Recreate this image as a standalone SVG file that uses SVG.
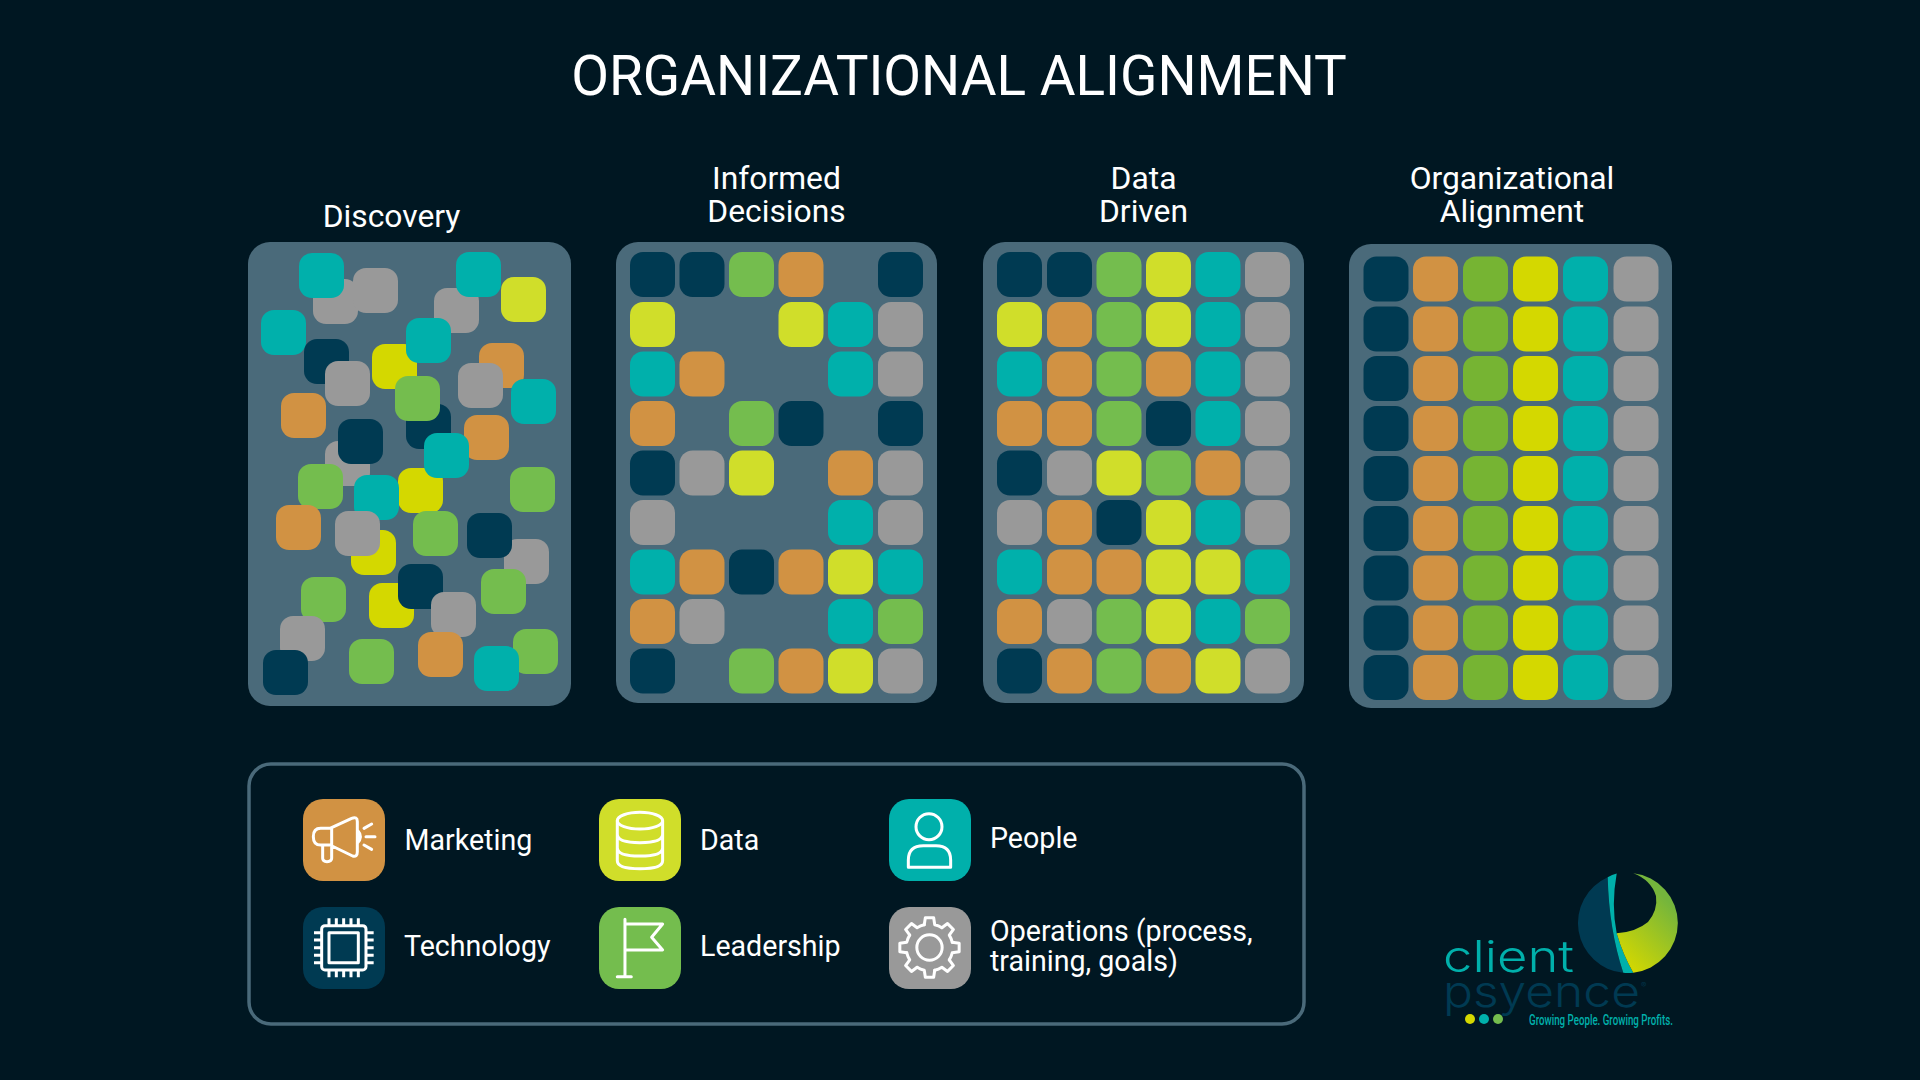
<svg xmlns="http://www.w3.org/2000/svg" width="1920" height="1080" viewBox="0 0 1920 1080">
<style>
.n{fill:#003a52}.o{fill:#d19243}.g{fill:#74bd4e}.G{fill:#76b433}.l{fill:#d0de2a}.y{fill:#d4d800}.t{fill:#00b0ab}.a{fill:#999999}
.panel{fill:#4a6a7a}
text{font-family:Roboto,"Liberation Sans",sans-serif;fill:#fff}
.h{font-size:31.8px;text-anchor:middle}
.lg{font-size:28.6px}
.ic{fill:none;stroke:#fff;stroke-width:9;stroke-linecap:round;stroke-linejoin:round}
.logo{font-family:Inter,"Noto Sans",sans-serif;font-weight:300}
</style>
<defs>
<rect id="s" width="45" height="45" rx="13"/>
<rect id="b" width="82" height="82" rx="20"/>
<path id="gs" d="M-15.7,-68.2 L-12.5,-89 H12.5 L15.7,-68.2 A70,70 0 0 1 37.1,-59.4"/>
<linearGradient id="lgd" gradientUnits="userSpaceOnUse" x1="1618" y1="958" x2="1672" y2="905"><stop offset="0" stop-color="#d4d800"/><stop offset="1" stop-color="#74b53c"/></linearGradient>
</defs>
<rect width="1920" height="1080" fill="#001722"/>
<text id="title" x="959" y="95" font-size="54.9" text-anchor="middle">ORGANIZATIONAL ALIGNMENT</text>

<g id="discovery">
<text class="h" x="391.5" y="227">Discovery</text>
<rect class="panel" x="248" y="242" width="323" height="464" rx="22"/>
<use href="#s" class="a" x="313" y="279"/><use href="#s" class="a" x="353" y="268"/><use href="#s" class="t" x="299" y="253"/>
<use href="#s" class="a" x="434" y="288"/><use href="#s" class="t" x="456" y="252"/><use href="#s" class="l" x="501" y="277"/>
<use href="#s" class="t" x="261" y="310"/><use href="#s" class="n" x="304" y="339"/><use href="#s" class="a" x="325" y="361"/>
<use href="#s" class="y" x="372" y="344"/><use href="#s" class="t" x="406" y="318"/><use href="#s" class="o" x="479" y="343"/>
<use href="#s" class="a" x="458" y="363"/><use href="#s" class="t" x="511" y="379"/><use href="#s" class="n" x="406" y="404"/>
<use href="#s" class="g" x="395" y="376"/><use href="#s" class="o" x="281" y="393"/><use href="#s" class="a" x="325" y="441"/>
<use href="#s" class="n" x="338" y="419"/><use href="#s" class="o" x="464" y="415"/><use href="#s" class="y" x="398" y="468"/>
<use href="#s" class="t" x="424" y="433"/><use href="#s" class="t" x="354" y="475"/><use href="#s" class="g" x="298" y="464"/>
<use href="#s" class="g" x="510" y="467"/><use href="#s" class="o" x="276" y="505"/><use href="#s" class="y" x="351" y="530"/>
<use href="#s" class="a" x="335" y="511"/><use href="#s" class="g" x="413" y="511"/><use href="#s" class="a" x="504" y="539"/>
<use href="#s" class="n" x="467" y="513"/><use href="#s" class="g" x="481" y="569"/><use href="#s" class="y" x="369" y="583"/>
<use href="#s" class="n" x="398" y="564"/><use href="#s" class="a" x="431" y="592"/><use href="#s" class="g" x="301" y="577"/>
<use href="#s" class="a" x="280" y="616"/><use href="#s" class="n" x="263" y="650"/><use href="#s" class="g" x="349" y="639"/>
<use href="#s" class="o" x="418" y="632"/><use href="#s" class="g" x="513" y="629"/><use href="#s" class="t" x="474" y="646"/>
</g>

<g id="informed-decisions">
<text class="h" x="776.5" y="189">Informed</text><text class="h" x="776.5" y="222">Decisions</text>
<rect class="panel" x="616" y="242" width="321" height="461" rx="22"/>
<g transform="translate(0,252)"><use href="#s" class="n" x="630"/><use href="#s" class="n" x="679.5"/><use href="#s" class="g" x="729"/><use href="#s" class="o" x="778.5"/><use href="#s" class="n" x="878"/></g>
<g transform="translate(0,302)"><use href="#s" class="l" x="630"/><use href="#s" class="l" x="778.5"/><use href="#s" class="t" x="828"/><use href="#s" class="a" x="878"/></g>
<g transform="translate(0,351.5)"><use href="#s" class="t" x="630"/><use href="#s" class="o" x="679.5"/><use href="#s" class="t" x="828"/><use href="#s" class="a" x="878"/></g>
<g transform="translate(0,401)"><use href="#s" class="o" x="630"/><use href="#s" class="g" x="729"/><use href="#s" class="n" x="778.5"/><use href="#s" class="n" x="878"/></g>
<g transform="translate(0,450.5)"><use href="#s" class="n" x="630"/><use href="#s" class="a" x="679.5"/><use href="#s" class="l" x="729"/><use href="#s" class="o" x="828"/><use href="#s" class="a" x="878"/></g>
<g transform="translate(0,500)"><use href="#s" class="a" x="630"/><use href="#s" class="t" x="828"/><use href="#s" class="a" x="878"/></g>
<g transform="translate(0,549.5)"><use href="#s" class="t" x="630"/><use href="#s" class="o" x="679.5"/><use href="#s" class="n" x="729"/><use href="#s" class="o" x="778.5"/><use href="#s" class="l" x="828"/><use href="#s" class="t" x="878"/></g>
<g transform="translate(0,599)"><use href="#s" class="o" x="630"/><use href="#s" class="a" x="679.5"/><use href="#s" class="t" x="828"/><use href="#s" class="g" x="878"/></g>
<g transform="translate(0,648.5)"><use href="#s" class="n" x="630"/><use href="#s" class="g" x="729"/><use href="#s" class="o" x="778.5"/><use href="#s" class="l" x="828"/><use href="#s" class="a" x="878"/></g>
</g>

<g id="data-driven">
<text class="h" x="1143.5" y="189">Data</text><text class="h" x="1143.5" y="222">Driven</text>
<rect class="panel" x="983" y="242" width="321" height="461" rx="22"/>
<g transform="translate(0,252)"><use href="#s" class="n" x="997"/><use href="#s" class="n" x="1047"/><use href="#s" class="g" x="1096.5"/><use href="#s" class="l" x="1146"/><use href="#s" class="t" x="1195.5"/><use href="#s" class="a" x="1245"/></g>
<g transform="translate(0,302)"><use href="#s" class="l" x="997"/><use href="#s" class="o" x="1047"/><use href="#s" class="g" x="1096.5"/><use href="#s" class="l" x="1146"/><use href="#s" class="t" x="1195.5"/><use href="#s" class="a" x="1245"/></g>
<g transform="translate(0,351.5)"><use href="#s" class="t" x="997"/><use href="#s" class="o" x="1047"/><use href="#s" class="g" x="1096.5"/><use href="#s" class="o" x="1146"/><use href="#s" class="t" x="1195.5"/><use href="#s" class="a" x="1245"/></g>
<g transform="translate(0,401)"><use href="#s" class="o" x="997"/><use href="#s" class="o" x="1047"/><use href="#s" class="g" x="1096.5"/><use href="#s" class="n" x="1146"/><use href="#s" class="t" x="1195.5"/><use href="#s" class="a" x="1245"/></g>
<g transform="translate(0,450.5)"><use href="#s" class="n" x="997"/><use href="#s" class="a" x="1047"/><use href="#s" class="l" x="1096.5"/><use href="#s" class="g" x="1146"/><use href="#s" class="o" x="1195.5"/><use href="#s" class="a" x="1245"/></g>
<g transform="translate(0,500)"><use href="#s" class="a" x="997"/><use href="#s" class="o" x="1047"/><use href="#s" class="n" x="1096.5"/><use href="#s" class="l" x="1146"/><use href="#s" class="t" x="1195.5"/><use href="#s" class="a" x="1245"/></g>
<g transform="translate(0,549.5)"><use href="#s" class="t" x="997"/><use href="#s" class="o" x="1047"/><use href="#s" class="o" x="1096.5"/><use href="#s" class="l" x="1146"/><use href="#s" class="l" x="1195.5"/><use href="#s" class="t" x="1245"/></g>
<g transform="translate(0,599)"><use href="#s" class="o" x="997"/><use href="#s" class="a" x="1047"/><use href="#s" class="g" x="1096.5"/><use href="#s" class="l" x="1146"/><use href="#s" class="t" x="1195.5"/><use href="#s" class="g" x="1245"/></g>
<g transform="translate(0,648.5)"><use href="#s" class="n" x="997"/><use href="#s" class="o" x="1047"/><use href="#s" class="g" x="1096.5"/><use href="#s" class="o" x="1146"/><use href="#s" class="l" x="1195.5"/><use href="#s" class="a" x="1245"/></g>
</g>

<g id="organizational-alignment">
<text class="h" x="1512" y="189">Organizational</text><text class="h" x="1512" y="222">Alignment</text>
<rect class="panel" x="1349" y="244" width="323" height="464" rx="22"/>
<g transform="translate(0,256.5)"><use href="#s" class="n" x="1363.5"/><use href="#s" class="o" x="1413"/><use href="#s" class="G" x="1463"/><use href="#s" class="y" x="1513"/><use href="#s" class="t" x="1563"/><use href="#s" class="a" x="1613.5"/></g>
<g transform="translate(0,306.5)"><use href="#s" class="n" x="1363.5"/><use href="#s" class="o" x="1413"/><use href="#s" class="G" x="1463"/><use href="#s" class="y" x="1513"/><use href="#s" class="t" x="1563"/><use href="#s" class="a" x="1613.5"/></g>
<g transform="translate(0,356)"><use href="#s" class="n" x="1363.5"/><use href="#s" class="o" x="1413"/><use href="#s" class="G" x="1463"/><use href="#s" class="y" x="1513"/><use href="#s" class="t" x="1563"/><use href="#s" class="a" x="1613.5"/></g>
<g transform="translate(0,406)"><use href="#s" class="n" x="1363.5"/><use href="#s" class="o" x="1413"/><use href="#s" class="G" x="1463"/><use href="#s" class="y" x="1513"/><use href="#s" class="t" x="1563"/><use href="#s" class="a" x="1613.5"/></g>
<g transform="translate(0,456)"><use href="#s" class="n" x="1363.5"/><use href="#s" class="o" x="1413"/><use href="#s" class="G" x="1463"/><use href="#s" class="y" x="1513"/><use href="#s" class="t" x="1563"/><use href="#s" class="a" x="1613.5"/></g>
<g transform="translate(0,506)"><use href="#s" class="n" x="1363.5"/><use href="#s" class="o" x="1413"/><use href="#s" class="G" x="1463"/><use href="#s" class="y" x="1513"/><use href="#s" class="t" x="1563"/><use href="#s" class="a" x="1613.5"/></g>
<g transform="translate(0,555.5)"><use href="#s" class="n" x="1363.5"/><use href="#s" class="o" x="1413"/><use href="#s" class="G" x="1463"/><use href="#s" class="y" x="1513"/><use href="#s" class="t" x="1563"/><use href="#s" class="a" x="1613.5"/></g>
<g transform="translate(0,605.5)"><use href="#s" class="n" x="1363.5"/><use href="#s" class="o" x="1413"/><use href="#s" class="G" x="1463"/><use href="#s" class="y" x="1513"/><use href="#s" class="t" x="1563"/><use href="#s" class="a" x="1613.5"/></g>
<g transform="translate(0,655)"><use href="#s" class="n" x="1363.5"/><use href="#s" class="o" x="1413"/><use href="#s" class="G" x="1463"/><use href="#s" class="y" x="1513"/><use href="#s" class="t" x="1563"/><use href="#s" class="a" x="1613.5"/></g>
</g>

<g id="legend">
<rect x="249" y="764" width="1055" height="260" rx="22" fill="none" stroke="#4a6a7a" stroke-width="3.5"/>
<g id="marketing">
<use href="#b" class="o" x="303" y="799"/>
<g transform="translate(280,780) scale(.3333)" class="ic"><path d="M215,115 L150,145 H122 Q100,145 100,170 Q100,195 122,195 H150 L218,228 Q232,232 232,215 V125 Q232,108 215,115 Z M155,145 V195 M128,197 V235 Q128,245 141,245 Q155,245 155,235 V197 M232,150 Q250,170 232,190 M252,145 L275,132 M258,170 H285 M252,195 L275,208"/></g>
<text class="lg" x="404.5" y="850">Marketing</text>
</g>
<g id="technology">
<use href="#b" class="n" x="303" y="907"/>
<g transform="translate(280,780) scale(.3333)" class="ic"><rect x="125" y="437" width="133" height="133" rx="10"/><rect x="147" y="458" width="88" height="90"/><path stroke-linecap="butt" d="M147,415V437M169,415V437M191,415V437M213,415V437M235,415V437M147,570V592M169,570V592M191,570V592M213,570V592M235,570V592M102,458H125M102,480H125M102,503H125M102,526H125M102,548H125M258,458H281M258,480H281M258,503H281M258,526H281M258,548H281"/></g>
<text class="lg" x="404" y="956">Technology</text>
</g>
<g id="data">
<use href="#b" class="l" x="599" y="799"/>
<g transform="translate(280,780) scale(.3333)" class="ic"><ellipse cx="1080" cy="122" rx="68" ry="25"/><path d="M1012,122 V242 Q1012,266 1080,266 Q1148,266 1148,242 V122 M1012,163 Q1012,188 1080,188 Q1148,188 1148,163 M1012,203 Q1012,228 1080,228 Q1148,228 1148,203"/></g>
<text class="lg" x="700" y="850">Data</text>
</g>
<g id="leadership">
<use href="#b" class="g" x="599" y="907"/>
<g transform="translate(280,780) scale(.3333)" class="ic"><path d="M1035,418 V590 M1012,590 H1054 M1035,432 H1148 L1115,472 L1148,510 H1035"/></g>
<text class="lg" x="700" y="956">Leadership</text>
</g>
<g id="people">
<use href="#b" class="t" x="889" y="799"/>
<g transform="translate(860,780) scale(.3333)" class="ic"><circle cx="207" cy="140" r="39"/><path d="M145,262 V240 Q145,197 190,197 H228 Q272,197 272,240 V262 Z"/></g>
<text class="lg" x="990" y="848">People</text>
</g>
<g id="operations">
<use href="#b" class="a" x="889" y="907"/>
<g transform="translate(929.5,947.5) scale(.3333)" class="ic"><use href="#gs"/><use href="#gs" transform="rotate(45)"/><use href="#gs" transform="rotate(90)"/><use href="#gs" transform="rotate(135)"/><use href="#gs" transform="rotate(180)"/><use href="#gs" transform="rotate(225)"/><use href="#gs" transform="rotate(270)"/><use href="#gs" transform="rotate(315)"/><circle cx="0" cy="0" r="38"/></g>
<text class="lg" x="990" y="941">Operations (process,</text>
<text class="lg" x="990" y="971">training, goals)</text>
</g>
</g>

<g id="logo">
<path fill="#003a52" d="M1607.7,877.3 A50,50 0 0 0 1623.3,972.8 Q1609,930 1607.7,877.3 Z"/>
<path fill="#00b0ab" d="M1607.7,877.3 Q1612,874.5 1616.7,873.6 Q1611,905 1616.7,933.3 Q1623,955 1633.3,972.7 Q1628,973.2 1623.3,972.8 Q1609,930 1607.7,877.3 Z"/>
<path fill="url(#lgd)" d="M1633.3,873.3 A50,50 0 0 1 1633.3,972.7 Q1623,955 1616.7,933.3 Q1636,932 1648,922 Q1658,910 1656,896 Q1651,880 1633.3,873.3 Z"/>
<text class="logo" x="1443" y="972" font-size="44" textLength="131" lengthAdjust="spacingAndGlyphs" style="fill:#00b0ab">client</text>
<text class="logo" x="1443" y="1007" font-size="44" textLength="197" lengthAdjust="spacingAndGlyphs" style="fill:#003a52">psyence</text>
<text class="logo" x="1641" y="988" font-size="8" style="fill:#003a52">®</text>
<circle cx="1470" cy="1019" r="5" fill="#d4d800"/><circle cx="1484" cy="1019" r="5" fill="#00b0ab"/><circle cx="1498" cy="1019" r="5" fill="#74bd4e"/>
<text x="1529" y="1025" font-size="15.5" font-weight="500" textLength="144" lengthAdjust="spacingAndGlyphs" style="fill:#00b0ab">Growing People. Growing Profits.</text>
</g>
</svg>
